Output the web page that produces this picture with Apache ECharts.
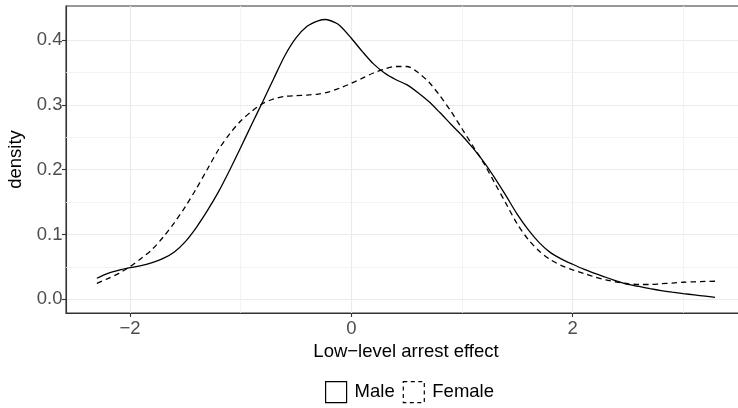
<!DOCTYPE html>
<html>
<head>
<meta charset="utf-8">
<script src="https://cdn.jsdelivr.net/npm/echarts@6/dist/echarts.min.js"></script>
<style>
  html, body { margin: 0; padding: 0; background: #fff; }
  #chart { width: 738px; height: 408px; }
</style>
</head>
<body>
<div id="chart"></div>
<script>
// Kernel density estimates of the low-level arrest effect, by sex
const maleX = [-2.3, -2.2, -2.1, -2.0, -1.9, -1.8, -1.7, -1.6, -1.5, -1.4, -1.3, -1.2, -1.1, -1.0, -0.9, -0.8, -0.7, -0.6, -0.5, -0.4, -0.3, -0.23, -0.15, -0.1, 0.0, 0.1, 0.2, 0.3, 0.4, 0.5, 0.6, 0.7, 0.8, 0.9, 1.0, 1.1, 1.2, 1.3, 1.4, 1.5, 1.6, 1.7, 1.8, 1.9, 2.0, 2.1, 2.2, 2.3, 2.4, 2.5, 2.6, 2.7, 2.8, 2.9, 3.0, 3.1, 3.2, 3.287];
const maleY = [0.0324, 0.040, 0.045, 0.0488, 0.052, 0.0565, 0.063, 0.073, 0.089, 0.111, 0.137, 0.166, 0.199, 0.234, 0.270, 0.305, 0.341, 0.376, 0.403, 0.421, 0.4295, 0.4315, 0.427, 0.4215, 0.4026, 0.382, 0.363, 0.349, 0.339, 0.331, 0.319, 0.305, 0.288, 0.270, 0.2526, 0.233, 0.211, 0.186, 0.159, 0.131, 0.107, 0.087, 0.072, 0.062, 0.054, 0.0465, 0.040, 0.034, 0.028, 0.023, 0.0198, 0.0165, 0.0135, 0.011, 0.0088, 0.0068, 0.0048, 0.0031];

const femaleX = [-2.3, -2.2, -2.1, -2.0, -1.9, -1.8, -1.7, -1.6, -1.5, -1.4, -1.3, -1.2, -1.1, -1.0, -0.9, -0.8, -0.7, -0.6, -0.5, -0.4, -0.3, -0.2, -0.1, 0.0, 0.1, 0.2, 0.3, 0.4, 0.5, 0.6, 0.7, 0.8, 0.9, 1.0, 1.1, 1.2, 1.3, 1.4, 1.5, 1.6, 1.7, 1.8, 1.9, 2.0, 2.1, 2.2, 2.3, 2.4, 2.5, 2.6, 2.7, 2.8, 2.9, 3.0, 3.1, 3.2, 3.287];
const femaleY = [0.0247, 0.032, 0.040, 0.0504, 0.063, 0.077, 0.096, 0.118, 0.143, 0.171, 0.201, 0.231, 0.255, 0.275, 0.290, 0.302, 0.309, 0.313, 0.314, 0.315, 0.3165, 0.320, 0.326, 0.333, 0.341, 0.349, 0.355, 0.359, 0.359, 0.350, 0.335, 0.314, 0.290, 0.263, 0.236, 0.209, 0.178, 0.147, 0.116, 0.092, 0.074, 0.061, 0.052, 0.0454, 0.040, 0.0345, 0.030, 0.0265, 0.024, 0.0228, 0.0228, 0.024, 0.025, 0.0263, 0.027, 0.0275, 0.0278];

const xBreaks = [-2, 0, 2];
const yBreaks = [0.0, 0.1, 0.2, 0.3, 0.4];
const xMinorBreaks = [-1, 1, 3];
const yMinorBreaks = [0.05, 0.15, 0.25, 0.35];

const seriesNames = ['Male', 'Female'];
const xTitle = 'Low\u2212level arrest effect';
const yTitle = 'density';

const FONT = '"Liberation Sans", Arial, Helvetica, sans-serif';
const zip = (xs, ys) => xs.map((x, i) => [x, ys[i]]);

const chart = echarts.init(document.getElementById('chart'), null, { renderer: 'canvas' });

const tickLabel = {
  color: '#4D4D4D',
  fontSize: 18.5,
  fontFamily: FONT
};

chart.setOption({
  animation: false,
  backgroundColor: '#fff',
  grid: {
    left: 66, top: 6, width: 680, height: 307,
    outerBoundsMode: 'none',
    show: true,
    borderColor: '#333333',
    borderWidth: 1.1,
    backgroundColor: 'transparent'
  },
  xAxis: {
    type: 'value',
    min: -2.579,
    max: 3.567,
    name: xTitle,
    nameLocation: 'middle',
    nameGap: 23,
    nameTextStyle: { color: '#000', fontSize: 18.5, fontFamily: FONT },
    axisLine: { show: true, onZero: false, lineStyle: { color: '#333333', width: 1.1 } },
    axisTick: { show: true, length: 4, customValues: xBreaks, lineStyle: { color: '#333333', width: 1.1 } },
    axisLabel: Object.assign({
      customValues: xBreaks,
      margin: 6,
      formatter: v => (v < 0 ? '\u2212' + Math.abs(v) : String(v))
    }, tickLabel),
    splitLine: { show: true, lineStyle: { color: '#EBEBEB', width: 1.2 } }
  },
  yAxis: {
    type: 'value',
    min: -0.02113,
    max: 0.4523,
    name: yTitle,
    nameLocation: 'middle',
    nameGap: 35,
    nameRotate: 90,
    nameTextStyle: { color: '#000', fontSize: 18.5, fontFamily: FONT },
    axisLine: { show: true, onZero: false, lineStyle: { color: '#333333', width: 1.1 } },
    axisTick: { show: true, length: 4, customValues: yBreaks, lineStyle: { color: '#333333', width: 1.1 } },
    axisLabel: Object.assign({
      customValues: yBreaks,
      margin: 3.5,
      formatter: v => v.toFixed(1)
    }, tickLabel),
    splitLine: { show: true, lineStyle: { color: '#EBEBEB', width: 1.2 } }
  },
  legend: {
    left: 325,
    top: 381,
    padding: 0,
    itemWidth: 21,
    itemHeight: 21,
    itemGap: 8,
    selectedMode: false,
    textStyle: { color: '#000', fontSize: 18.5, fontFamily: FONT, padding: [0, 0, 0, 3] },
    data: [
      { name: seriesNames[0], icon: 'rect',
        itemStyle: { color: '#fff', borderColor: '#000', borderWidth: 1.2, borderType: 'solid' } },
      { name: seriesNames[1], icon: 'rect',
        itemStyle: { color: '#fff', borderColor: '#000', borderWidth: 1.2, borderType: [4, 3.5] } }
    ]
  },
  series: [
    {
      // minor grid lines
      name: 'minor-grid',
      type: 'line',
      data: [],
      silent: true,
      z: 1,
      markLine: {
        silent: true,
        z: 1,
        symbol: ['none', 'none'],
        label: { show: false },
        lineStyle: { color: '#F0F0F0', width: 0.8, type: 'solid' },
        emphasis: { disabled: true },
        data: xMinorBreaks.map(v => ({ xAxis: v })).concat(yMinorBreaks.map(v => ({ yAxis: v })))
      }
    },
    {
      name: seriesNames[0],
      type: 'line',
      data: zip(maleX, maleY),
      smooth: 0.3,
      showSymbol: false,
      symbol: 'none',
      z: 3,
      lineStyle: { color: '#000', width: 1.3, type: 'solid' },
      itemStyle: { color: '#000' }
    },
    {
      name: seriesNames[1],
      type: 'line',
      data: zip(femaleX, femaleY),
      smooth: 0.3,
      showSymbol: false,
      symbol: 'none',
      z: 3,
      lineStyle: { color: '#000', width: 1.3, type: [5.5, 4] },
      itemStyle: { color: '#000' }
    }
  ]
});
</script>
</body>
</html>
